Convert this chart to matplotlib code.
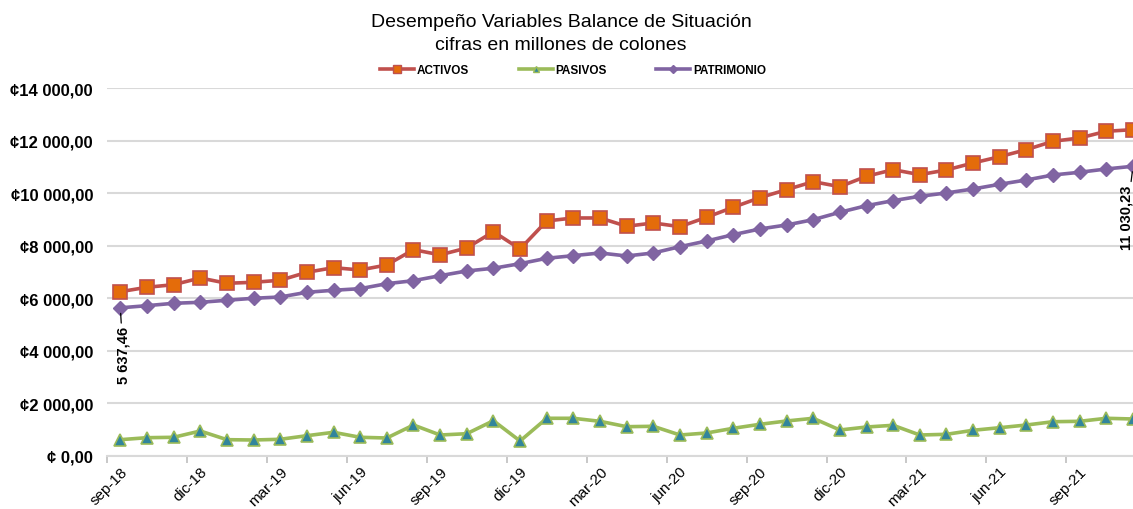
import matplotlib
matplotlib.use("Agg")
import matplotlib.pyplot as plt
from matplotlib.lines import Line2D
import numpy as np

plt.rcParams['font.family'] = ['Liberation Sans', 'DejaVu Sans']

# Months sep-18 .. nov-21
tick_labels = ["sep-18", "dic-18", "mar-19", "jun-19", "sep-19", "dic-19", "mar-20",
               "jun-20", "sep-20", "dic-20", "mar-21", "jun-21", "sep-21"]

activos = [6252, 6420, 6519, 6774, 6572, 6610, 6687, 6991, 7167, 7079, 7270, 7853,
           7655, 7917, 8538, 7879, 8946, 9060, 9060, 8744, 8870, 8729, 9087, 9468,
           9834, 10139, 10443, 10253, 10648, 10900, 10710, 10889, 11156, 11396, 11663,
           11982, 12108, 12363, 12424]
pasivos = [614, 690, 705, 945, 614, 602, 629, 766, 895, 705, 678, 1173,
           792, 842, 1337, 564, 1429, 1429, 1314, 1109, 1124, 792, 869, 1048,
           1200, 1326, 1429, 983, 1097, 1162, 792, 819, 972, 1071, 1173,
           1299, 1314, 1429, 1402]
patrimonio = [5637.46, 5719, 5810, 5848, 5925, 6001, 6050, 6229, 6306, 6367, 6557, 6671,
              6862, 7041, 7144, 7319, 7525, 7624, 7727, 7612, 7727, 7967, 8184, 8424,
              8641, 8793, 8995, 9277, 9529, 9720, 9887, 10013, 10165, 10344, 10508,
              10698, 10801, 10927, 11030.23]
yticks = [0, 2000, 4000, 6000, 8000, 10000, 12000, 14000]
ytick_labels = ["¢ 0,00", "¢2 000,00", "¢4 000,00", "¢6 000,00", "¢8 000,00",
                "¢10 000,00", "¢12 000,00", "¢14 000,00"]

W, H = 1133, 510
fig = plt.figure(figsize=(W / 100, H / 100), dpi=100)
ax = fig.add_axes([107 / W, (H - 456.8) / H, 1 - 107 / W, (456.8 - 89.3) / H])

x = np.arange(len(activos))
red, orange = "#C0504D", "#E46C0A"
green, teal = "#9BBB59", "#31859C"
purple = "#8064A2"

ax.plot(x, pasivos, color=green, lw=2.6, marker="^", ms=9, mfc=teal, mec=green,
        mew=1.2, clip_on=False, zorder=3)
ax.plot(x, patrimonio, color=purple, lw=2.6, marker="D", ms=7, mfc=purple, mec=purple,
        clip_on=False, zorder=3)
ax.plot(x, activos, color=red, lw=2.6, marker="s", ms=9.5, mfc=orange, mec=red,
        mew=1.2, clip_on=False, zorder=4)

ax.set_yticks(yticks)
ax.set_yticklabels(ytick_labels, fontsize=12, fontweight="bold")
ax.tick_params(axis="y", length=0, pad=10)
ax.grid(axis="y", color="#D9D9D9", lw=1.5)
ax.set_axisbelow(True)

ax.set_xticks(np.arange(0, len(activos), 3))
ax.set_xticklabels(tick_labels, rotation=45, ha="right", rotation_mode="anchor",
                   fontsize=11)
ax.tick_params(axis="x", length=0, pad=6)
ax.set_xticks(np.arange(-0.5, len(activos) - 1, 3), minor=True)
ax.tick_params(axis="x", which="minor", length=5, color="#BFBFBF", width=1.2)

ax.set_ylim(0, 14000)
ax.set_xlim(-0.5, 38.0)

for s in ["top", "right", "left"]:
    ax.spines[s].set_visible(False)
ax.spines["bottom"].set_color("#D9D9D9")
ax.spines["bottom"].set_linewidth(1.5)

# Data labels
ax.annotate("5 637,46", xy=(x[0], patrimonio[0]), xytext=(2, -13),
            textcoords="offset points", rotation=90, ha="center", va="top",
            fontsize=10.5, fontweight="bold",
            arrowprops=dict(arrowstyle="-", color="black", lw=0.9, shrinkA=0, shrinkB=4))
ax.annotate("11 030,23", xy=(x[-1], patrimonio[-1]), xytext=(-4.5, -13),
            textcoords="offset points", rotation=90, ha="center", va="top",
            fontsize=10.5, fontweight="bold",
            arrowprops=dict(arrowstyle="-", color="black", lw=0.9, shrinkA=0, shrinkB=4),
            annotation_clip=False)

fig.text(561 / W, 1 - 22.5 / H, "Desempeño Variables Balance de Situación",
         ha="center", va="center", fontsize=14)
fig.text(561 / W, 1 - 45 / H, "cifras en millones de colones",
         ha="center", va="center", fontsize=14)

handles = [
    Line2D([], [], color=red, lw=2.6, marker="s", ms=6, mfc=orange, mec=red),
    Line2D([], [], color=green, lw=2.6, marker="^", ms=5, mfc=teal, mec=green),
    Line2D([], [], color=purple, lw=2.6, marker="D", ms=4.5, mfc=purple, mec=purple),
]
fig.legend(handles, ["ACTIVOS", "PASIVOS", "PATRIMONIO"], loc="center",
           bbox_to_anchor=(573 / W, 1 - 71 / H), ncol=3, frameon=False,
           prop=dict(size=8.5, weight="bold"), handlelength=2.9, handletextpad=0.2,
           columnspacing=4.2)

fig.savefig("out.png", dpi=100)
